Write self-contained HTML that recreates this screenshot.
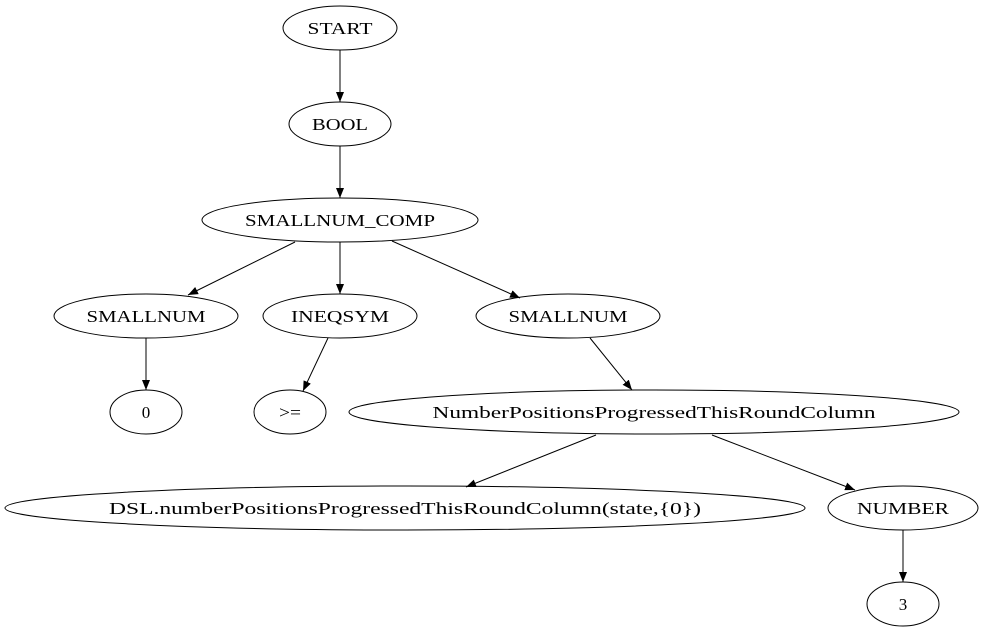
<!DOCTYPE html>
<html><head><meta charset="utf-8"><style>html,body{margin:0;padding:0;background:#fff}svg{display:block}</style></head>
<body>
<svg width="983" height="635" viewBox="0 0 983 635" xmlns="http://www.w3.org/2000/svg">
<defs><marker id="a" markerWidth="10" markerHeight="8" refX="10" refY="4" orient="auto" markerUnits="userSpaceOnUse"><path d="M0,0 L10,4 L0,8 Z" fill="#000"/></marker></defs>
<g fill="none" stroke="#000" stroke-width="1">
<ellipse cx="340" cy="28" rx="57" ry="22"/>
<ellipse cx="340" cy="124" rx="51" ry="22"/>
<ellipse cx="340" cy="220" rx="138" ry="22"/>
<ellipse cx="146" cy="316" rx="92" ry="22"/>
<ellipse cx="340" cy="316" rx="77" ry="22"/>
<ellipse cx="568" cy="316" rx="92" ry="22"/>
<ellipse cx="146" cy="412" rx="36" ry="22"/>
<ellipse cx="290" cy="412" rx="36" ry="22"/>
<ellipse cx="654" cy="412" rx="305" ry="22"/>
<ellipse cx="405" cy="508" rx="400" ry="22"/>
<ellipse cx="903" cy="508" rx="75" ry="22"/>
<ellipse cx="903" cy="604" rx="36" ry="22"/>
<g marker-end="url(#a)">
<line x1="340" y1="50" x2="340" y2="102"/>
<line x1="340" y1="146" x2="340" y2="198"/>
<line x1="295" y1="242" x2="188" y2="295"/>
<line x1="340" y1="242" x2="340" y2="294"/>
<line x1="392" y1="241" x2="520" y2="298"/>
<line x1="146" y1="338" x2="146" y2="390"/>
<line x1="328" y1="338" x2="303" y2="391"/>
<line x1="590" y1="338" x2="632" y2="390"/>
<line x1="596" y1="435" x2="466" y2="487"/>
<line x1="712" y1="435" x2="855" y2="490"/>
<line x1="903" y1="530" x2="903" y2="582"/>
</g></g>
<g style="font-family:'Liberation Serif',serif" font-size="17" text-anchor="middle" fill="#000" lengthAdjust="spacingAndGlyphs">
<text x="340" y="34" textLength="65" lengthAdjust="spacingAndGlyphs">START</text>
<text x="340" y="130" textLength="56" lengthAdjust="spacingAndGlyphs">BOOL</text>
<text x="340" y="226" textLength="190" lengthAdjust="spacingAndGlyphs">SMALLNUM_COMP</text>
<text x="146" y="322" textLength="119" lengthAdjust="spacingAndGlyphs">SMALLNUM</text>
<text x="340" y="322" textLength="98" lengthAdjust="spacingAndGlyphs">INEQSYM</text>
<text x="568" y="322" textLength="119" lengthAdjust="spacingAndGlyphs">SMALLNUM</text>
<text x="146" y="418">0</text>
<text x="290" y="418" textLength="22" lengthAdjust="spacingAndGlyphs">&gt;=</text>
<text x="654" y="418" textLength="443" lengthAdjust="spacingAndGlyphs">NumberPositionsProgressedThisRoundColumn</text>
<text x="405" y="514" textLength="592" lengthAdjust="spacingAndGlyphs">DSL.numberPositionsProgressedThisRoundColumn(state,{0})</text>
<text x="903" y="514" textLength="92" lengthAdjust="spacingAndGlyphs">NUMBER</text>
<text x="903" y="610">3</text>
</g>
</svg>
</body></html>
